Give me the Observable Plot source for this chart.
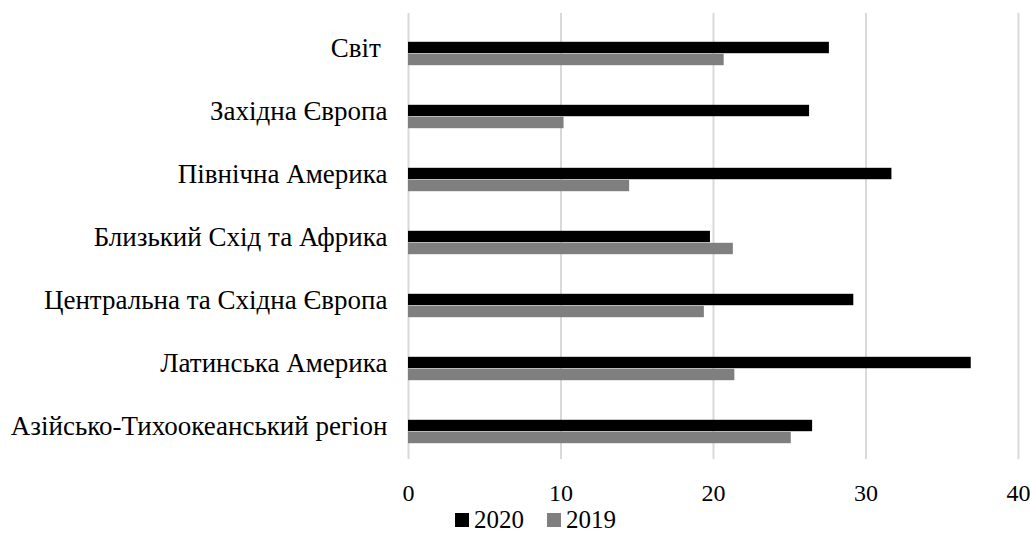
<!DOCTYPE html>
<html>
<head>
<meta charset="utf-8">
<script src="https://cdn.jsdelivr.net/npm/d3@7"></script>
<script src="https://cdn.jsdelivr.net/npm/@observablehq/plot@0.6"></script>
<style>
  body { margin: 0; background: #fff; font-family: "Liberation Serif", "Times New Roman", Times, serif; overflow: hidden; position: relative; width: 1030px; height: 534px; }
  #chart svg { display: block; }
  #chart svg text { font-family: "Liberation Serif", "Times New Roman", Times, serif !important; fill: #000; }
  #chart svg g[aria-label="y-axis tick label"] text { font-size: 27px !important; }
  #chart svg g[aria-label="x-axis tick label"] text { font-size: 24px !important; }
  #legend { position: absolute; left: 455px; top: 507px; display: flex; gap: 23px; font-size: 25px; color: #000; line-height: 25px; height: 25px; font-family: "Liberation Serif", "Times New Roman", Times, serif; }
  .item { display: flex; align-items: center; gap: 5px; }
  .sw { width: 14px; height: 14px; display: inline-block; }
</style>
</head>
<body>
<div id="chart"></div>
<div id="legend"></div>
<script>
const regions = [
  "Світ\u00a0",
  "Західна Європа",
  "Північна Америка",
  "Близький Схід та Африка",
  "Центральна та Східна Європа",
  "Латинська Америка",
  "Азійсько-Тихоокеанський регіон"
];
const values2020 = [27.6, 26.3, 31.7, 19.8, 29.2, 36.9, 26.5];
const values2019 = [20.7, 10.2, 14.5, 21.3, 19.4, 21.4, 25.1];
const seriesNames = ["2020", "2019"];
const seriesColors = ["#000000", "#7f7f7f"];
const xTicks = [0, 10, 20, 30, 40];

const d2020 = regions.map((r, i) => ({region: r, value: values2020[i]}));
const d2019 = regions.map((r, i) => ({region: r, value: values2019[i]}));

const chart = Plot.plot({
  width: 1030,
  height: 506,
  marginLeft: 408,
  marginRight: 12,
  marginTop: 13,
  marginBottom: 47,
  style: {fontFamily: "Liberation Serif", background: "#fff", color: "#000"},
  x: {domain: [0, 40], ticks: xTicks, tickSize: 0, tickPadding: 24, label: null},
  y: {domain: regions, padding: 0, tickSize: 0, tickPadding: 21, label: null},
  marks: [
    Plot.gridX(xTicks, {stroke: "#d9d9d9", strokeOpacity: 1, strokeWidth: 2}),
    Plot.barX(d2020, {x: "value", y: "region", fill: seriesColors[0], insetTop: 25.8, insetBottom: 25.8}),
    Plot.barX(d2019, {x: "value", y: "region", fill: seriesColors[1], insetTop: 25.8, insetBottom: 25.8, dy: 12}),
    Plot.axisX({ticks: xTicks, tickSize: 0, tickPadding: 24, fontSize: 24, label: null}),
    Plot.axisY({tickSize: 0, tickPadding: 21, fontSize: 27, label: null})
  ]
});
document.getElementById("chart").appendChild(chart);

const legend = document.getElementById("legend");
seriesNames.forEach((name, i) => {
  const it = document.createElement("span");
  it.className = "item";
  const sw = document.createElement("span");
  sw.className = "sw";
  sw.style.background = seriesColors[i];
  it.appendChild(sw);
  it.appendChild(document.createTextNode(name));
  legend.appendChild(it);
});
</script>
</body>
</html>
